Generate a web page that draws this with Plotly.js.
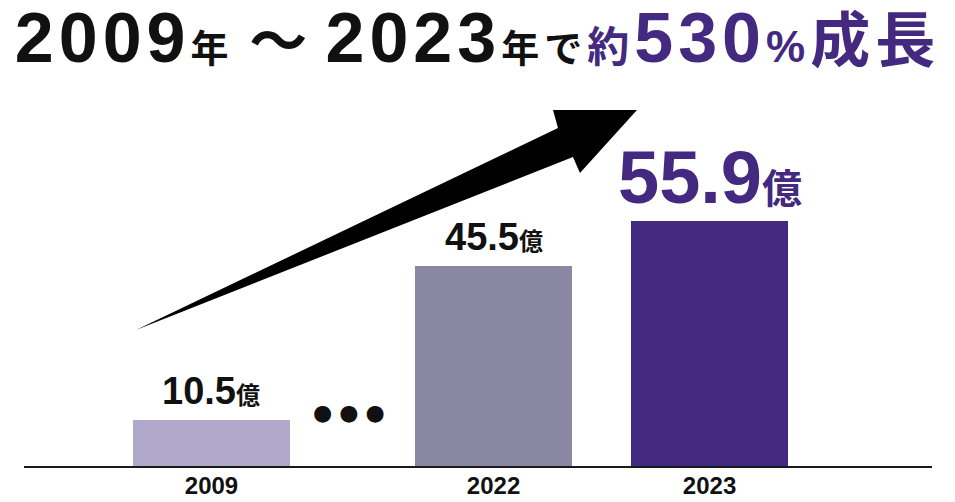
<!DOCTYPE html>
<html>
<head>
<meta charset="utf-8">
<script src="https://cdn.plot.ly/plotly-3.0.1.min.js"></script>
<style>
  html, body { margin: 0; padding: 0; background: #ffffff; }
  #chart { width: 955px; height: 502px; }
  #chart .gtitle { letter-spacing: 5px; }
</style>
</head>
<body>
<div id="chart"></div>
<script>
// ---- data ----
const categories = ['2009', '2022', '2023'];
const values = [10.5, 45.5, 55.9];
const valueLabels = ['10.5', '45.5', '55.9'];
const unitLabel = '億';
const barColors = ['#b0a9cb', '#8a87a2', '#43297f'];

// ---- layout constants ----
const PURPLE = '#43297f';
const FONT = '"Liberation Sans", Arial, "Noto Sans CJK JP", sans-serif';
const W = 955, H = 502;
const M = { l: 24, r: 23, t: 80, b: 36 };
const plotW = W - M.l - M.r, plotH = H - M.t - M.b;
// category slot positions along the x axis (2022 -> 2023 = one unit; gap before 2022 wider)
const slot = { '2009': 0, '2022': 1.306, '2023': 2.306 };
const xs = categories.map(c => slot[c]);
const xRange = [-0.868, 3.336];
const yRange = [0, 88];

const px2paper = (px, py) => [((px - M.l) / plotW).toFixed(4), ((H - M.b - py) / plotH).toFixed(4)];
const arrowPts = [[136, 330], [558, 128], [553, 110], [637, 110], [580, 173], [573, 157]];
const arrowPath = 'M ' + arrowPts.map(p => px2paper(p[0], p[1]).join(',')).join(' L ') + ' Z';

const bar = {
  type: 'bar',
  x: xs,
  y: values,
  width: 0.727,
  marker: { color: barColors, line: { width: 0 } },
  hoverinfo: 'skip',
  showlegend: false
};

const labelSpecs = [
  { size: 38, unit: 24, color: '#111111', shift: 6 },
  { size: 38, unit: 24, color: '#111111', shift: 6 },
  { size: 74, unit: 40, color: PURPLE, shift: 0 }
];

const annotations = categories.map((c, i) => ({
  x: xs[i], y: values[i], xref: 'x', yref: 'y',
  xanchor: 'center', yanchor: 'bottom', yshift: labelSpecs[i].shift,
  showarrow: false,
  text: '<b>' + valueLabels[i] + '<span style="font-size:' + labelSpecs[i].unit + 'px">' + unitLabel + '</span></b>',
  font: { family: FONT, size: labelSpecs[i].size, color: labelSpecs[i].color }
}));

// ellipsis between 2009 and 2022
annotations.push({
  x: 0.637, y: 12.2, xref: 'x', yref: 'y', xanchor: 'center', yanchor: 'middle',
  showarrow: false, text: '●&nbsp;●&nbsp;●',
  font: { family: '"DejaVu Sans", sans-serif', size: 22, color: '#111111' }
});

const titleText = '<b>2009<span style="font-size:38px">年&nbsp;</span>' +
  '<span style="font-size:58px">～</span><span style="font-size:30px">&nbsp;</span>2023<span style="font-size:38px">年で</span>' +
  '<span style="color:' + PURPLE + '"><span style="font-size:42px">約</span>530' +
  '<span style="font-size:44px">%</span><span style="font-size:60px">成長</span></span></b>';

const layout = {
  width: W, height: H,
  margin: M,
  paper_bgcolor: '#ffffff', plot_bgcolor: '#ffffff',
  title: {
    text: titleText,
    x: 0.5, xanchor: 'center', xref: 'container',
    y: 1 - 37 / H, yanchor: 'middle', yref: 'container',
    font: { family: FONT, size: 70, color: '#111111' }
  },
  xaxis: {
    range: xRange, fixedrange: true,
    tickvals: xs, ticktext: categories,
    showgrid: false, zeroline: false,
    showline: true, linecolor: '#1a1a1a', linewidth: 2,
    ticks: '', ticklabelstandoff: -3,
    tickfont: { family: FONT, size: 24, color: '#111111', weight: 'bold' }
  },
  yaxis: {
    range: yRange, fixedrange: true, visible: false,
    showgrid: false, zeroline: false
  },
  shapes: [{
    type: 'path', xref: 'paper', yref: 'paper', path: arrowPath,
    fillcolor: '#000000', line: { width: 0 }, layer: 'above'
  }],
  annotations: annotations,
  bargap: 0
};

Plotly.newPlot('chart', [bar], layout, { displayModeBar: false, staticPlot: true });
</script>
</body>
</html>
